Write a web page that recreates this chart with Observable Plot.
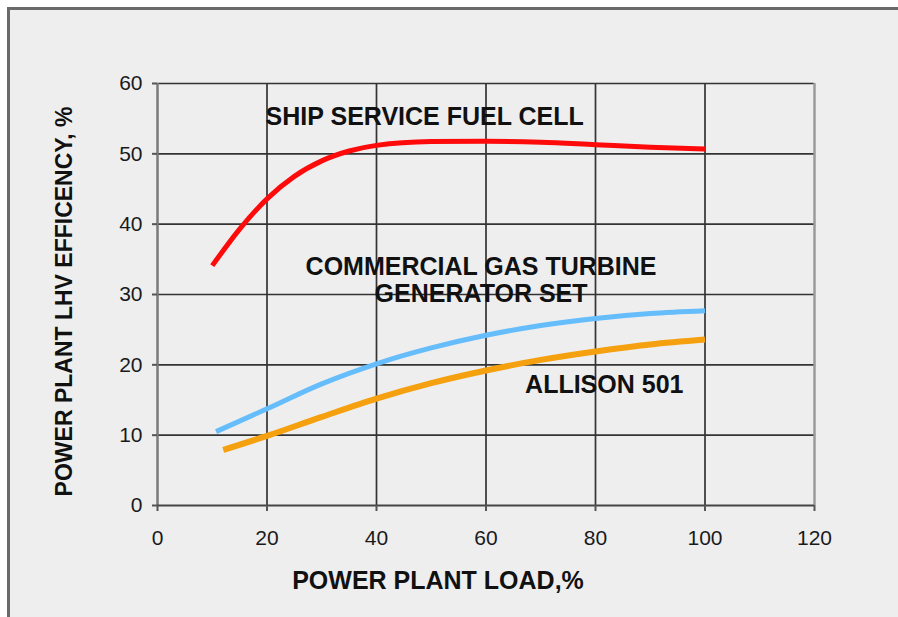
<!DOCTYPE html>
<html>
<head>
<meta charset="utf-8">
<script src="https://cdn.jsdelivr.net/npm/d3@7"></script>
<script src="https://cdn.jsdelivr.net/npm/@observablehq/plot@0.6"></script>
<style>
  html, body { margin: 0; padding: 0; background: #ffffff; }
  #wrap { position: relative; width: 898px; height: 617px; overflow: hidden; background: #ffffff; }
  #panel { position: absolute; left: 7px; top: 7px; width: 900px; height: 620px;
           background: #eeeeef; border-left: 3px solid #6a6a6a; border-top: 3px solid #6a6a6a; box-sizing: border-box; }
  #chart { position: absolute; left: 0; top: 0; }
</style>
</head>
<body>
<div id="wrap"><div id="panel"></div><div id="chart"></div></div>
<script>
// Ship service fuel cell
const fuelCellLoad = [10, 15, 20, 25, 30, 35, 40, 50, 60, 70, 80, 90, 100];
const fuelCellEff  = [34.1, 39.3, 43.6, 46.8, 49.0, 50.4, 51.2, 51.75, 51.8, 51.65, 51.3, 50.95, 50.7];
// Commercial gas turbine generator set
const gasTurbineLoad = [10.7, 20, 30, 40, 50, 60, 70, 80, 90, 100];
const gasTurbineEff  = [10.5, 13.75, 17.3, 20.15, 22.4, 24.2, 25.6, 26.6, 27.3, 27.7];
// Allison 501
const allisonLoad = [12, 20, 30, 40, 50, 60, 70, 80, 90, 100];
const allisonEff  = [7.9, 9.9, 12.6, 15.2, 17.4, 19.2, 20.7, 21.9, 22.9, 23.6];

const seriesNames = ["SHIP SERVICE FUEL CELL", "COMMERCIAL GAS TURBINE GENERATOR SET", "ALLISON 501"];
const seriesColors = ["#ff0a0a", "#66bdfc", "#f5a00e"];

const xTicks = [0, 20, 40, 60, 80, 100, 120];
const yTicks = [0, 10, 20, 30, 40, 50, 60];
const xGrid = [20, 40, 60, 80, 100];
const yGrid = [10, 20, 30, 40, 50, 60];

const xLabel = "POWER PLANT LOAD,%";
const yLabel = "POWER PLANT LHV EFFICENCY, %";

const annotationText = ["SHIP SERVICE FUEL CELL", "COMMERCIAL GAS TURBINE", "GENERATOR SET", "ALLISON 501"];
const annotationX = [48.8, 59.1, 59.1, 81.6];
const annotationY = [55.3, 33.9, 30.1, 17.2];

const toRows = (loads, effs, name) => loads.map((l, i) => ({load: l, eff: effs[i], series: name}));
const fuelRows = toRows(fuelCellLoad, fuelCellEff, seriesNames[0]);
const gasRows = toRows(gasTurbineLoad, gasTurbineEff, seriesNames[1]);
const allisonRows = toRows(allisonLoad, allisonEff, seriesNames[2]);
const annotations = annotationText.map((t, i) => ({text: t, x: annotationX[i], y: annotationY[i]}));

const font = "'Liberation Sans', Arial, Helvetica, sans-serif";

const chart = Plot.plot({
  width: 898,
  height: 617,
  marginLeft: 157,
  marginRight: 84,
  marginTop: 83,
  marginBottom: 112,
  style: {background: "transparent", fontFamily: font, color: "#1a1a1a", overflow: "visible"},
  x: {domain: [0, 120], label: null},
  y: {domain: [0, 60], label: null},
  marks: [
    Plot.ruleX(xGrid, {y1: 0, y2: 60, stroke: "#333", strokeWidth: 1.7}),
    Plot.ruleY(yGrid, {x1: 0, x2: 120, stroke: "#333", strokeWidth: 1.7}),
    Plot.ruleX([120], {y1: 0, y2: 60, stroke: "#9a9a9a", strokeWidth: 2.5}),
    Plot.ruleX([0], {y1: 0, y2: 60, stroke: "#7a7a7a", strokeWidth: 2.5}),
    Plot.ruleY([0], {x1: 0, x2: 120, stroke: "#444", strokeWidth: 2}),
    Plot.axisX({ticks: xTicks, tickSize: 6, tickPadding: 19, fontSize: 21, stroke: "#555", strokeWidth: 2, label: null, tickFormat: d => String(d)}),
    Plot.axisY({ticks: yTicks, tickSize: 5, tickPadding: 10, fontSize: 21, stroke: "#555", strokeWidth: 2, label: null, tickFormat: d => String(d)}),
    Plot.line(fuelRows, {x: "load", y: "eff", stroke: seriesColors[0], strokeWidth: 5, curve: "monotone-x", strokeLinecap: "butt"}),
    Plot.line(gasRows, {x: "load", y: "eff", stroke: seriesColors[1], strokeWidth: 5, curve: "monotone-x", strokeLinecap: "butt"}),
    Plot.line(allisonRows, {x: "load", y: "eff", stroke: seriesColors[2], strokeWidth: 6, curve: "monotone-x", strokeLinecap: "butt"}),
    Plot.text(annotations, {x: "x", y: "y", text: "text", fontSize: 25, fontWeight: "bold", fill: "#111"}),
    Plot.text([xLabel], {frameAnchor: "bottom", textAnchor: "middle", dx: -48, dy: 83, fontSize: 25, fontWeight: "bold", fill: "#111"}),
    Plot.text([yLabel], {frameAnchor: "left", textAnchor: "middle", dx: -93, dy: 7, rotate: -90, fontSize: 23, fontWeight: "bold", fill: "#111"})
  ]
});
document.getElementById("chart").appendChild(chart);
</script>
</body>
</html>
